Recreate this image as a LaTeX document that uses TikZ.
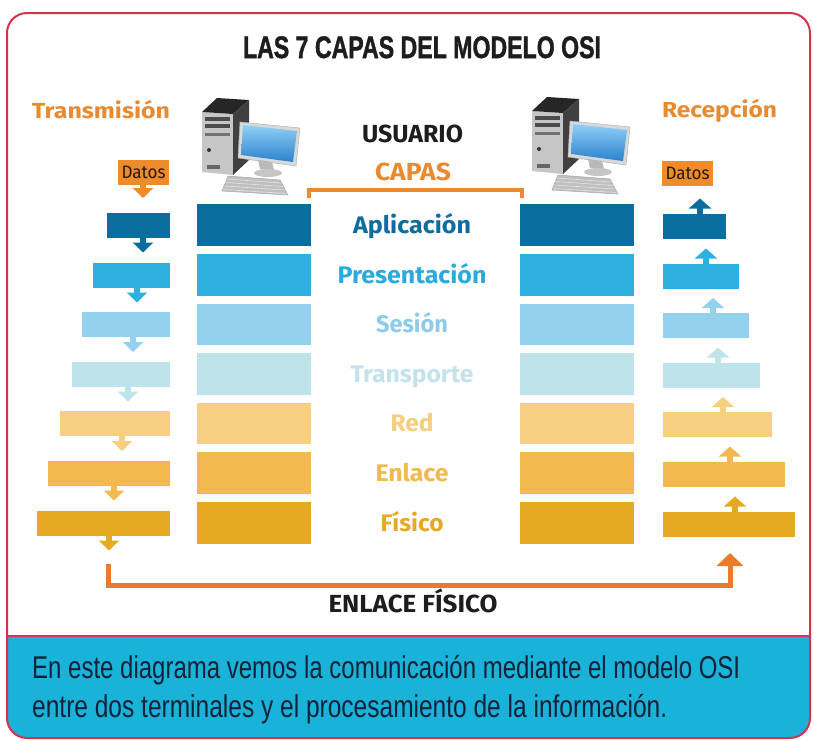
\documentclass[tikz,border=0pt]{standalone}
\usepackage{fontspec}
\usepackage{graphicx}
\setmainfont{Fira Sans}
\newfontfamily\arialfont{Liberation Sans}
\newfontfamily\titlefont[BoldFeatures={FakeBold=1.6}]{Liberation Sans}
\usetikzlibrary{arrows.meta}

% layer colours, top (application) to bottom (physical)
\definecolor{c1}{HTML}{0B6C9E}
\definecolor{c2}{HTML}{2EB1E0}
\definecolor{c3}{HTML}{93D1EF}
\definecolor{c4}{HTML}{BFE3EA}
\definecolor{c5}{HTML}{F7CF80}
\definecolor{c6}{HTML}{F2B94F}
\definecolor{c7}{HTML}{E6AA22}
\definecolor{t1}{HTML}{0F6C9F}
\definecolor{t2}{HTML}{2AAADD}
\definecolor{t3}{HTML}{8DCBE9}
\definecolor{t4}{HTML}{C2E2EC}
\definecolor{t5}{HTML}{F5CE7E}
\definecolor{t6}{HTML}{F2B94F}
\definecolor{t7}{HTML}{E6A925}
\definecolor{headorange}{HTML}{E98A2E}
\definecolor{datosorange}{HTML}{EE8B2B}
\definecolor{linkorange}{HTML}{EA7B2C}
\definecolor{framered}{HTML}{D5334B}
\definecolor{bandblue}{HTML}{19B3DA}
\definecolor{inkdark}{HTML}{1D1D1B}
\definecolor{navyink}{HTML}{132238}
\definecolor{screenlight}{HTML}{8FD0F5}
\definecolor{screendark}{HTML}{2C82CF}

% stretch a text to a given width, keeping its height
\newcommand{\fitw}[2]{\resizebox{#1}{\height}{#2}}

% small desktop computer icon, origin at the top-left corner of the tower front
\newcommand{\pcicon}[2]{%
  \begin{scope}[shift={(#1,#2)}]
    \fill[gray!45!white] (0,0) -- (31,2) -- (31,63) -- (0,60) -- cycle;
    \fill[black!85] (0,0) -- (15,-14) -- (47,-12) -- (31,2) -- cycle;
    \fill[black!75] (31,2) -- (47,-12) -- (47,48) -- (31,63) -- cycle;
    \fill[black!70] (3,5) rectangle (28,9);
    \fill[black!70] (3,12) rectangle (28,16);
    \fill[black!55] (3,21) rectangle (28,24);
    \fill[black!80] (7,38) circle (2);
    \fill[black!60] (5,53) rectangle (18,57);
    \fill[gray!30!white, draw=gray!60, line width=0.5pt]
      (38,10) -- (98,16) -- (94,54) -- (36,46) -- cycle;
    \shade[top color=screenlight, bottom color=screendark]
      (41,13) -- (95,19) -- (91,50) -- (39,43) -- cycle;
    \fill[gray!55] (56,48) -- (70,50) -- (72,58) -- (58,57) -- cycle;
    \fill[gray!45] (66,61) ellipse (14 and 4);
    \fill[gray!50, draw=gray!70, line width=0.5pt]
      (26,64) -- (78,68) -- (86,83) -- (20,79) -- cycle;
    \foreach \k in {0,1,2,3}
      \draw[white!80!gray, line width=0.6pt]
        (25-\k*1.2,67+\k*3.5) -- (79+\k*1.8,71+\k*3.5);
  \end{scope}}

\tikzset{
  smallbox/.style={rectangle, inner sep=0pt, outer sep=0pt, minimum height=25pt},
  bigbox/.style={rectangle, inner sep=0pt, outer sep=0pt,
    minimum width=114pt, minimum height=41.5pt},
  datosbox/.style={rectangle, fill=datosorange, inner sep=0pt, outer sep=0pt,
    minimum width=51pt, minimum height=25pt, text=black!80!brown,
    font=\fontsize{18}{18}\selectfont},
  downarrow/.style={line width=6pt, -{Triangle[width=20pt,length=10pt]}},
  uparrow/.style={line width=6pt, -{Triangle[width=22pt,length=10pt]}},
  linkarrow/.style={draw=linkorange, line width=5pt,
    -{Triangle[width=26pt,length=13pt]}},
  layerlabel/.style={anchor=base, inner sep=0pt,
    font=\fontsize{24}{24}\selectfont\bfseries},
  headlabel/.style={anchor=base, inner sep=0pt,
    font=\fontsize{24.7}{24.7}\selectfont\bfseries},
  sidelabel/.style={anchor=base, inner sep=0pt, text=headorange,
    font=\fontsize{21.8}{21.8}\selectfont\bfseries},
  caption/.style={anchor=base west, inner sep=0pt, text=navyink,
    font=\arialfont\fontsize{31.5}{31.5}\selectfont},
}

\begin{document}
\begin{tikzpicture}[x=1pt,y=-1pt]
  \useasboundingbox (0,0) rectangle (814,740);
  \fill[white] (0,0) rectangle (814,740);

  % panel: white upper part, blue caption band below
  \begin{scope}
    \clip[rounded corners=20pt] (7,13) rectangle (810,738);
    \fill[bandblue] (0,636) rectangle (814,740);
  \end{scope}
  \draw[framered, line width=2pt, rounded corners=20pt] (7,13) rectangle (810,738);
  \draw[framered, line width=2pt] (7,636) -- (810,636);

  % title and column headings
  \node[anchor=base, inner sep=0pt, text=inkdark] (title) at (422,58)
    {\fitw{358pt}{\titlefont\bfseries\fontsize{31}{31}\selectfont LAS 7 CAPAS DEL MODELO OSI}};
  \node[sidelabel] (tx) at (101,118) {\fitw{138pt}{Transmisión}};
  \node[sidelabel] (rx) at (719.5,117) {\fitw{115pt}{Recepción}};
  \node[headlabel, text=inkdark] (user) at (412.5,142) {\fitw{101pt}{USUARIO}};
  \node[headlabel, text=headorange] (capas) at (413,180) {\fitw{76pt}{CAPAS}};

  % the two terminals
  \pcicon{202}{112}
  \pcicon{532}{111}

  % bracket under the "CAPAS" heading
  \draw[headorange, line width=4pt] (309,198) -- (309,190) -- (522,190) -- (522,198);

  % data entering and leaving the stacks
  \node[datosbox] (DL) at (143.5,172.5) {\fitw{44pt}{Datos}};
  \node[datosbox] (DR) at (687.5,173) {\fitw{44pt}{Datos}};
  \coordinate (DT) at (143,198);
  \draw[downarrow, datosorange] (DL.south -| DT) -- (DT);

  % the seven layers: encapsulation on the left, decapsulation on the right
  \foreach \i/\cy/\lw/\ax/\rw/\bx/\lab/\lbw in {
      1/225/63/143/63/700/Aplicación/118,
      2/275/77/137/76/706/Presentación/149,
      3/324.5/88/133/86/713/Sesión/72,
      4/374/98/128/97/718/Transporte/123,
      5/423.5/110/122/109/723/Red/43,
      6/473/122/114/122/730/Enlace/73,
      7/523/133/109/132/735/Físico/63} {
    \node[bigbox, fill=c\i] (BL\i) at (254,\cy) {};
    \node[bigbox, fill=c\i] (BR\i) at (577,\cy) {};
    \node[layerlabel, text=t\i] (N\i) at (412,\cy+8) {\fitw{\lbw pt}{\lab}};
    \node[smallbox, fill=c\i, minimum width=\lw pt, anchor=east] (L\i) at (170,\cy) {};
    \node[smallbox, fill=c\i, minimum width=\rw pt, anchor=west] (R\i) at (663,\cy+1) {};
    \coordinate (LT\i) at (\ax,\cy+27.5);
    \coordinate (RT\i) at (\bx,\cy-26.5);
    \draw[downarrow, c\i] (L\i.south -| LT\i) -- (LT\i);
    \draw[uparrow, c\i] (R\i.north -| RT\i) -- (RT\i);
  }

  % physical link between the two terminals
  \coordinate (linkstart) at (108,564);
  \coordinate (linkend) at (730,553);
  \draw[linkarrow] (linkstart) -- ++(0,21) -| (linkend);
  \node[headlabel, text=inkdark] (link) at (413,612) {\fitw{169pt}{ENLACE FÍSICO}};

  % caption
  \node[caption] (cap1) at (32,678)
    {\fitw{708pt}{En este diagrama vemos la comunicación mediante el modelo OSI}};
  \node[caption] (cap2) at (32,717)
    {\fitw{635pt}{entre dos terminales y el procesamiento de la información.}};
\end{tikzpicture}
\end{document}
